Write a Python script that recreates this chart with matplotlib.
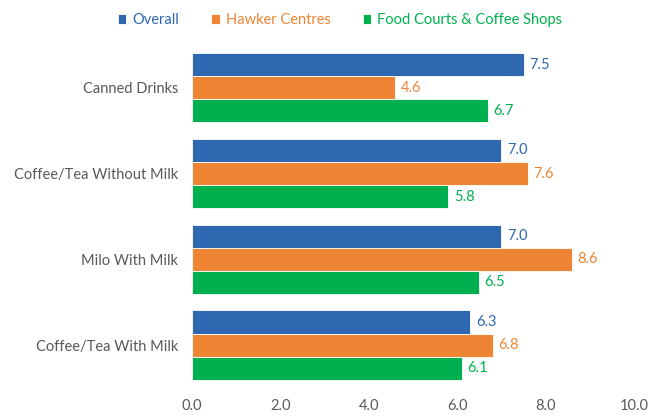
import matplotlib

matplotlib.use("Agg")
import matplotlib.pyplot as plt
import numpy as np

plt.rcParams["font.family"] = ["Lato", "DejaVu Sans"]

categories = ["Canned Drinks", "Coffee/Tea Without Milk", "Milo With Milk", "Coffee/Tea With Milk"]
series_names = ["Overall", "Hawker Centres", "Food Courts & Coffee Shops"]
overall = [7.5, 7.0, 7.0, 6.3]
hawker = [4.6, 7.6, 8.6, 6.8]
food_courts = [6.7, 5.8, 6.5, 6.1]
x_ticks = [0.0, 2.0, 4.0, 6.0, 8.0, 10.0]

COLORS = ["#2f67b1", "#ed8535", "#00b04f"]
TEXT = "#595959"

fig = plt.figure(figsize=(6.64, 4.19), dpi=100)
ax = fig.add_axes([0.289, 0.074, 0.666, 0.819])

bar_h = 0.27
ypos = np.arange(len(categories))[::-1]
offsets = [bar_h, 0.0, -bar_h]
handles = []
for vals, name, color, off in zip([overall, hawker, food_courts], series_names, COLORS, offsets):
    bars = ax.barh(ypos + off, vals, height=bar_h, color=color, edgecolor="white",
                   linewidth=0.6, label=name)
    handles.append(bars)
    for y, v in zip(ypos + off, vals):
        ax.text(v + 0.12, y, f"{v:.1f}", color=color, fontsize=10.5, ha="left", va="center")

ax.set_xlim(0, 10)
ax.set_ylim(-0.5, 3.5)
ax.set_xticks(x_ticks)
ax.set_xticklabels([f"{t:.1f}" for t in x_ticks], color=TEXT, fontsize=10.5)
ax.set_yticks(ypos)
ax.set_yticklabels(categories, color=TEXT, fontsize=10.5)
ax.tick_params(axis="x", length=0, pad=8)
ax.tick_params(axis="y", length=0, pad=10)
for spine in ax.spines.values():
    spine.set_visible(False)

leg = fig.legend(handles=handles, labels=series_names, loc="center", bbox_to_anchor=(0.512, 0.952),
                 ncol=3, frameon=False, fontsize=10.5, handlelength=0.6, handleheight=0.6,
                 handletextpad=0.4, columnspacing=2.2, labelcolor=COLORS)

fig.savefig("out.png", dpi=100)
